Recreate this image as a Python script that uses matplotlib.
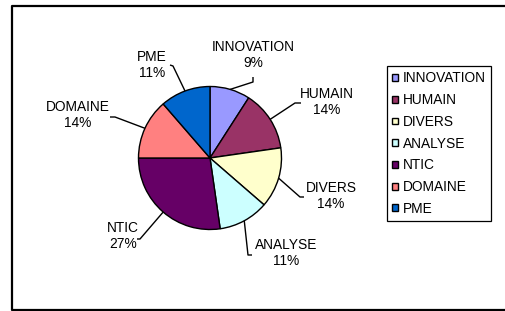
import numpy as np
import matplotlib.pyplot as plt
from matplotlib.lines import Line2D

plt.rcParams['font.family'] = ['Liberation Sans', 'DejaVu Sans']

categories = ["INNOVATION", "HUMAIN", "DIVERS", "ANALYSE", "NTIC", "DOMAINE", "PME"]
counts = [4, 6, 6, 5, 12, 6, 5]
colors = ["#9999FF", "#993366", "#FFFFCC", "#CCFFFF", "#660066", "#FF8080", "#0066CC"]

# label centres and leader-line elbows, pixels from the top-left corner
label_px = [(253, 55), (327, 102), (331, 196), (286, 253), (123, 236), (78, 115), (152, 65)]
elbow_px = [
    [(253, 82), (253, 77)],
    [(295, 103), (301, 103)],
    [(300, 197), (304, 197)],
    [(248, 255), (252, 255)],
    [(140, 239), (137, 239)],
    [(115, 117), (110, 117)],
    [(173, 66), (170, 65)],
]

W, H = 506, 311
cx, cy, r = 210, 158, 71.5

fig = plt.figure(figsize=(W / 100, H / 100), dpi=100)
fig.patch.set_facecolor("white")

ax = fig.add_axes([(cx - r) / W, (H - cy - r) / H, 2 * r / W, 2 * r / H])
wedges, _ = ax.pie(counts, colors=colors, startangle=90, counterclock=False, radius=1,
                   wedgeprops=dict(edgecolor="black", linewidth=1.0))
# pie() resets the limits, so fix them afterwards
ax.set_xlim(-1, 1)
ax.set_ylim(-1, 1)
ax.axis("off")


def to_data(p):
    return (p[0] - cx) / r, (cy - p[1]) / r


total = sum(counts)
for w, name, c, lp, el in zip(wedges, categories, counts, label_px, elbow_px):
    mid = np.deg2rad((w.theta1 + w.theta2) / 2)
    pts = [(np.cos(mid), np.sin(mid))] + [to_data(p) for p in el]
    xs, ys = zip(*pts)
    ax.plot(xs, ys, color="black", lw=1.0, clip_on=False, solid_capstyle="butt")
    tx, ty = to_data(lp)
    ax.text(tx, ty, f"{name}\n{round(100 * c / total)}%", ha="center", va="center",
            fontsize=9.9, linespacing=1.1, clip_on=False)

# chart border: open on the right, it runs off the picture
left, top, bottom = 12 / W, 1 - 6 / H, 1 - 310 / H
fig.add_artist(Line2D([1.05, left, left, 1.05], [top, top, bottom, bottom],
                      transform=fig.transFigure, color="black", lw=1.6))

leg = fig.legend(wedges, categories, loc="upper left", bbox_to_anchor=(387 / W, 1 - 66 / H),
                 frameon=True, fancybox=False, edgecolor="black", framealpha=1,
                 borderpad=0.4, handlelength=0.4, handleheight=0.4, handletextpad=0.35,
                 labelspacing=0.56, borderaxespad=0, fontsize=9.9)
leg.get_frame().set_linewidth(0.9)

fig.savefig("out.png", dpi=100)
